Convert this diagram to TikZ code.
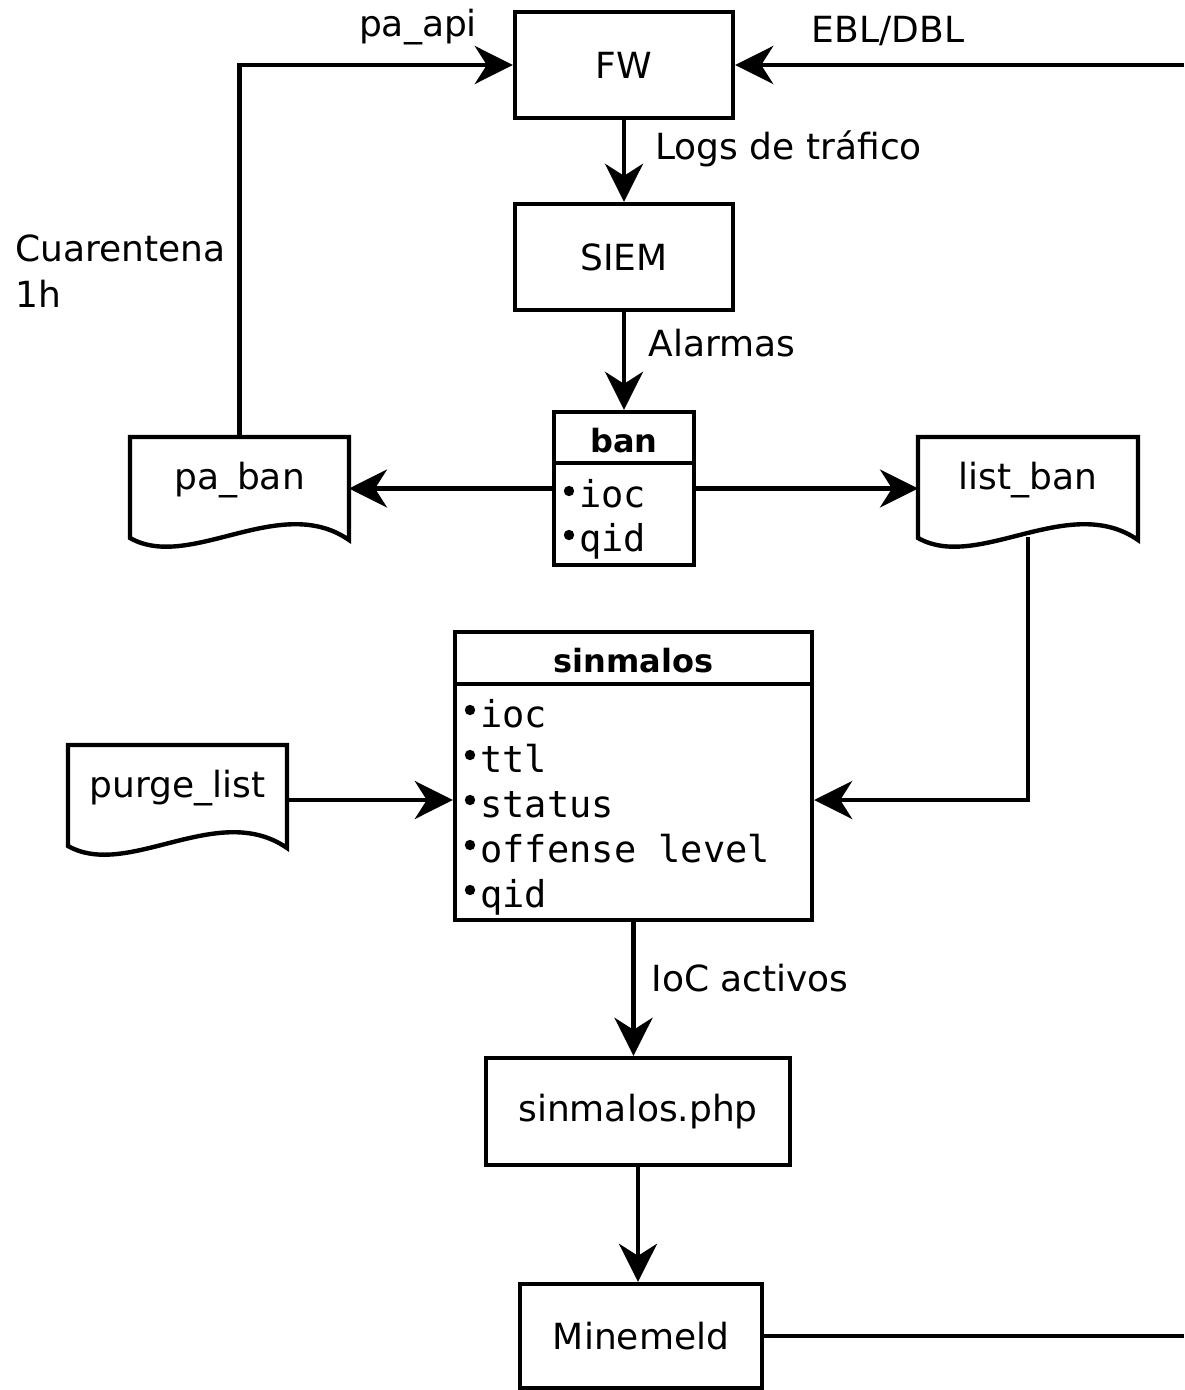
\documentclass[tikz,border=0pt]{standalone}
\usepackage{fontspec}
\setmainfont{DejaVu Sans}
\setmonofont{DejaVu Sans Mono}
\usetikzlibrary{arrows.meta}
\begin{document}
\begin{tikzpicture}[x=0.5pt,y=-0.5pt,
  lw/.style={line width=2.2pt},
  box/.style={draw, lw, rectangle, inner sep=0pt, font=\fontsize{18}{22}\selectfont},
  doc/.style={inner sep=0pt, outer sep=0pt, minimum height=43pt, font=\fontsize{18}{22}\selectfont},
  docline/.style={draw, lw, line join=miter},
  lbl/.style={inner sep=0pt, font=\fontsize{18}{23}\selectfont},
  hdr/.style={inner sep=0pt, font=\fontsize{16}{18}\selectfont\bfseries},
  row/.style={inner sep=0pt, anchor=base west, font=\ttfamily\fontsize{18.5}{22}\selectfont},
  bul/.style={fill=black, draw=none},
  conn/.style={lw, -{Stealth[length=19pt,width=19pt,inset=6pt]}},
  plainline/.style={lw}
]
\useasboundingbox (0,0) rectangle (1184,1390);

% boxes
\node[box, minimum width=109pt, minimum height=53pt] (fw) at (624,65) {FW};
\node[box, minimum width=109pt, minimum height=53pt] (siem) at (624,257) {SIEM};
\node[box, minimum width=152pt, minimum height=53.5pt] (php) at (638,1111.5) {sinmalos.php};
\node[box, minimum width=121pt, minimum height=52pt] (mm) at (641,1336) {Minemeld};

% ban table
\node[box, minimum width=70pt, minimum height=76.5pt] (ban) at (624,488.5) {};
\draw[lw] (554,463) -- (694,463);
\node[hdr] (banh) at (624,441) {ban};
\node[row] (b1) at (579,507) {ioc};
\node[row] (b2) at (579,551) {qid};
\foreach \r in {b1,b2} \path[bul] ([shift={(-10,-16)}]\r.base west) circle (2.6pt);

% sinmalos table
\node[box, minimum width=178.5pt, minimum height=144pt] (sm) at (633.5,776) {};
\draw[lw] (455,684) -- (812,684);
\node[hdr] (smh) at (633.5,661) {sinmalos};
\node[row] (s1) at (480,727) {ioc};
\node[row] (s2) at (480,772) {ttl};
\node[row] (s3) at (480,817) {status};
\node[row] (s4) at (480,862) {offense level};
\node[row] (s5) at (480,907) {qid};
\foreach \r in {s1,s2,s3,s4,s5} \path[bul] ([shift={(-10,-17)}]\r.base west) circle (2.6pt);

% document shapes
\node[doc, minimum width=109.5pt] (paban) at (239.5,480) {pa\_ban};
\node[doc, minimum width=110pt] (listban) at (1028,480) {list\_ban};
\node[doc, minimum width=109.5pt] (purge) at (177.5,788) {purge\_list};
\foreach \d in {paban,listban,purge}
  \draw[docline] (\d.north west) -- (\d.north east) -- ([shift={(0,103)}]\d.north east)
     .. controls ([shift={(-69,55)}]\d.north east) and ([shift={(60,135)}]\d.north west) ..
     ([shift={(0,101)}]\d.north west) -- cycle;

% labels
\node[lbl] (lpa) at (418,27) {pa\_api};
\node[lbl] (lebl) at (888,31) {EBL/DBL};
\node[lbl, anchor=west] (llogs) at (655,149) {Logs de tráfico};
\node[lbl, anchor=west] (lalarm) at (648,343) {Alarmas};
\node[lbl, anchor=west] (lioc) at (651,978) {IoC activos};
\node[lbl, anchor=north west, align=left] (lcuar) at (15,234) {Cuarentena\\1h};

% connectors
\coordinate (eblin) at (1184,65);
\coordinate (mmout) at (1184,1336);
\draw[conn] (paban.north) |- (fw.west);
\draw[conn] (eblin) -- (fw.east);
\draw[conn] (fw.south) -- (siem.north);
\draw[conn] (siem.south) -- (ban.north);
\draw[conn] (ban.west) -- (ban.west -| paban.east);
\draw[conn] (ban.east) -- (ban.east -| listban.west);
\draw[conn] ([shift={(0,14)}]listban.south) |- ([shift={(0,24)}]sm.east);
\draw[conn] ([shift={(0,12)}]purge.east) -- ([shift={(0,24)}]sm.west);
\draw[conn] (sm.south) -- (sm.south |- php.north);
\draw[conn] (php.south) -- (php.south |- mm.north);
\draw[plainline] (mm.east) -- (mmout);
\end{tikzpicture}
\end{document}
